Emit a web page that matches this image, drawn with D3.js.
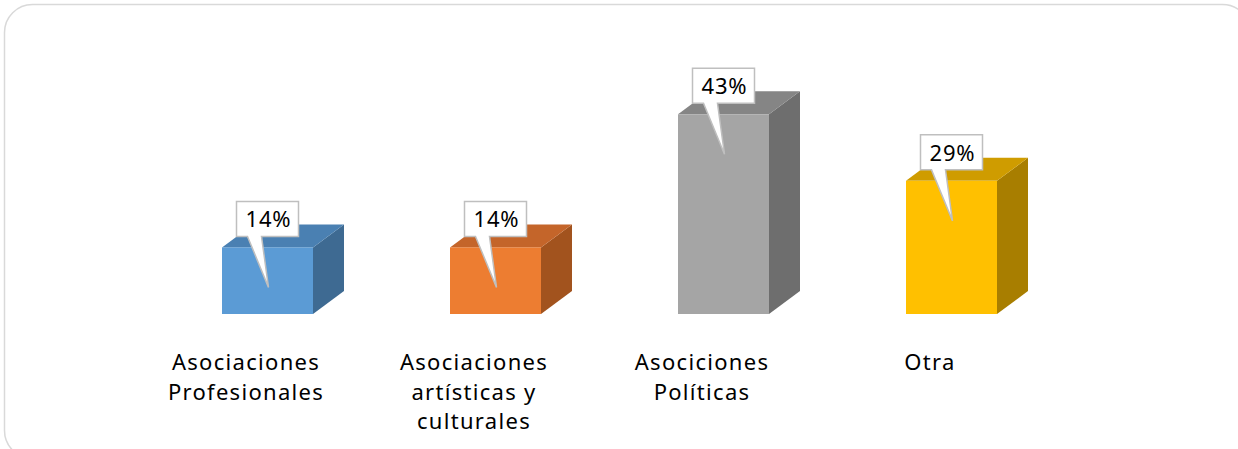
<!DOCTYPE html>
<html><head><meta charset="utf-8">
<script src="https://cdn.jsdelivr.net/npm/d3@7"></script>
<style>html,body{margin:0;padding:0;background:#fff;}svg{display:block;}</style>
</head><body>
<svg id="chart" width="1238" height="449"></svg>
<script>
const categories = [["Asociaciones","Profesionales"],["Asociaciones","artísticas y","culturales"],["Asociciones","Políticas"],["Otra"]];
const values = [14.29, 14.29, 42.86, 28.57];
const labels = ["14%", "14%", "43%", "29%"];
const frontColors = ["#5B9BD5", "#ED7D31", "#A5A5A5", "#FFC000"];
const topColors = ["#4A80B2", "#C4652A", "#858585", "#CF9C00"];
const sideColors = ["#3E6A92", "#A2531E", "#6E6E6E", "#A87E00"];

const svg = d3.select("#chart");
const font = "'Noto Sans', 'Open Sans', sans-serif";

svg.append("rect").attr("x", 4.5).attr("y", 4.5).attr("width", 1246).attr("height", 454)
  .attr("rx", 28).attr("ry", 28).attr("fill", "none").attr("stroke", "#d9d9d9").attr("stroke-width", 1.5);

const x = d3.scaleBand().domain(d3.range(categories.length)).range([131, 1043]).padding(0);
const y = d3.scaleLinear().domain([0, 50]).range([314, 81]);
const barW = 91, dx = 31, dy = 23, shift = 22.5;

const g = svg.append("g");
values.forEach((v, i) => {
  const cx = x(i) + x.bandwidth() / 2 + shift;
  const x0 = cx - barW / 2, x1 = cx + barW / 2;
  const yt = y(v), yb = y(0);
  g.append("path").attr("d", `M${x1},${yt}L${x1+dx},${yt-dy}L${x1+dx},${yb-dy}L${x1},${yb}Z`).attr("fill", sideColors[i]);
  g.append("path").attr("d", `M${x0},${yt}L${x0+dx},${yt-dy}L${x1+dx},${yt-dy}L${x1},${yt}Z`).attr("fill", topColors[i]);
  g.append("rect").attr("x", x0).attr("y", yt).attr("width", barW).attr("height", yb - yt).attr("fill", frontColors[i]);

  const bw = 62, bh = 35;
  const bx = cx - bw / 2, bby = yt - 11, bty = bby - bh;
  const tipX = cx + 1, tipY = yt + 40;
  const p = `M${bx},${bty}L${bx+bw},${bty}L${bx+bw},${bby}L${bx+25},${bby}L${tipX},${tipY}L${bx+11},${bby}L${bx},${bby}Z`;
  g.append("path").attr("d", p).attr("fill", "#fff").attr("stroke", "#bfbfbf").attr("stroke-width", 1.5);
  g.append("text").attr("x", cx + 1).attr("y", bby - 9).attr("text-anchor", "middle")
    .attr("font-family", font).attr("font-size", 22).attr("letter-spacing", 0.8).attr("fill", "#000").text(labels[i]);
});

categories.forEach((lines, i) => {
  const cx = x(i) + x.bandwidth() / 2 + 1;
  const t = svg.append("text").attr("text-anchor", "middle").attr("font-family", font)
    .attr("font-size", 22).attr("letter-spacing", 1.3).attr("fill", "#000");
  lines.forEach((ln, j) => {
    t.append("tspan").attr("x", cx).attr("y", 370 + j * 29.5).text(ln);
  });
});
</script>
</body></html>
